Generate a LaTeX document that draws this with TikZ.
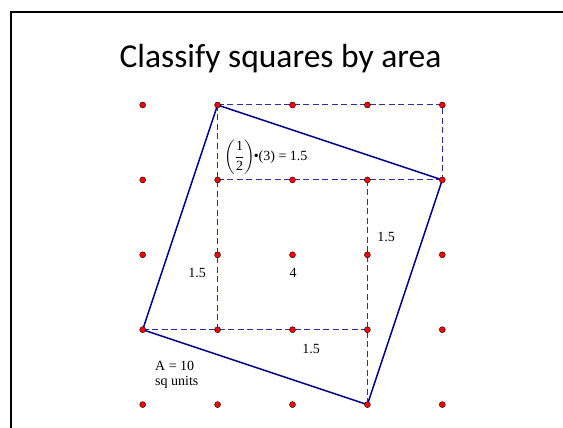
\documentclass[tikz,border=0pt]{standalone}
\usepackage{amsmath}
\usepackage{fontspec}
\setmainfont{Liberation Serif}
\newfontfamily\titlefont{Carlito}
\definecolor{navy}{RGB}{0,0,140}
\definecolor{dashblue}{RGB}{45,45,170}
\begin{document}
\begin{tikzpicture}[x=1pt,y=-1pt,
  dot/.style={circle,fill=red,draw=black,line width=0.4pt,inner sep=0pt,minimum size=6pt},
  sqline/.style={draw=navy,line width=1.5pt,line join=round},
  guide/.style={draw=dashblue,line width=1pt,dash pattern=on 6pt off 3.5pt},
  lbl/.style={font=\fontsize{14}{16}\selectfont,inner sep=0pt}]
\useasboundingbox (0,0) rectangle (563,428);
\fill[white] (0,0) rectangle (563,428);
\draw[line width=2pt] (11,428) -- (11,12) -- (563,12);
\node[font=\titlefont\fontsize{33.5}{38}\selectfont,anchor=base,inner sep=0pt] (title) at (280.5,68) {Classify squares by area};
\foreach \i in {0,...,4}{\foreach \j in {0,...,4}{
  \coordinate (p\i\j) at ({142.7+74.9*\i},{105+74.9*\j});}}
% dashed guides
\draw[guide] (p10) -- (p40) -- (p41);
\draw[guide] (p11) -- (p41);
\draw[guide] (p10) -- (p13);
\draw[guide] (p03) -- (p33);
\draw[guide] (p31) -- (p34);
% tilted square
\draw[sqline] (p10) -- (p41) -- (p34) -- (p03) -- cycle;
% dots
\foreach \i in {0,...,4}{\foreach \j in {0,...,4}{
  \node[dot] (d\i\j) at (p\i\j) {};}}
% labels
\node[lbl,anchor=west] (frac) at (224,157) {$\left(\dfrac{\text{1}}{\text{2}}\right)$\kern-1pt•(3) = 1.5};
\node[lbl] (r15) at (386,237) {1.5};
\node[lbl] (l15) at (197,273) {1.5};
\node[lbl] (c4) at (293,273) {4};
\node[lbl] (b15) at (311,349) {1.5};
\node[lbl,anchor=west] (area) at (155,366) {A = 10};
\node[lbl,anchor=west] (units) at (155,382) {sq units};
\end{tikzpicture}
\end{document}
